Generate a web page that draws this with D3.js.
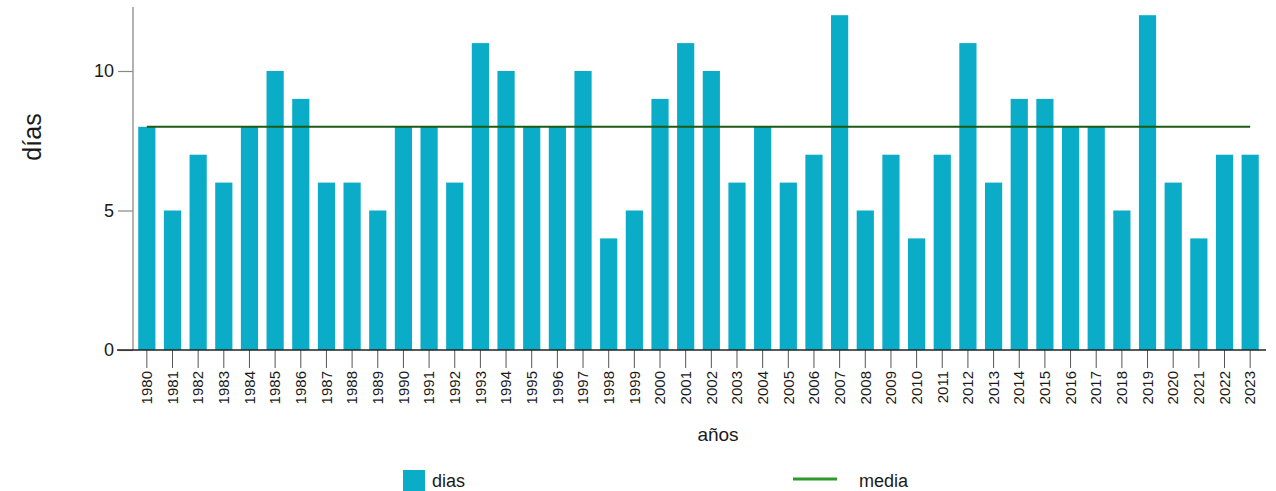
<!DOCTYPE html>
<html>
<head>
<meta charset="utf-8">
<script src="https://cdn.jsdelivr.net/npm/d3@7"></script>
<style>
  body { margin: 0; background: #fff; }
  svg { display: block; font-family: "Liberation Sans Narrow", "Liberation Sans", Arial, sans-serif; }
</style>
</head>
<body>
<svg id="chart" width="1276" height="491"></svg>
<script>
const years = ["1980","1981","1982","1983","1984","1985","1986","1987","1988","1989",
  "1990","1991","1992","1993","1994","1995","1996","1997","1998","1999",
  "2000","2001","2002","2003","2004","2005","2006","2007","2008","2009",
  "2010","2011","2012","2013","2014","2015","2016","2017","2018","2019",
  "2020","2021","2022","2023"];
const dias = [8,5,7,6,8,10,9,6,6,5,
  8,8,6,11,10,8,8,10,4,5,
  9,11,10,6,8,6,7,12,5,7,
  4,7,11,6,9,9,8,8,5,12,
  6,4,7,7];
const media = [8,8,8,8,8,8,8,8,8,8,
  8,8,8,8,8,8,8,8,8,8,
  8,8,8,8,8,8,8,8,8,8,
  8,8,8,8,8,8,8,8,8,8,
  8,8,8,8];
const yTicks = [0, 5, 10];

const svg = d3.select("#chart");
const barColor = "#0aacc8";
const sansFont = "'Liberation Sans', Arial, sans-serif";

const x = d3.scaleBand().domain(years).range([134, 1263]).paddingInner(0.33).paddingOuter(0.165);
const y = d3.scaleLinear().domain([0, 10]).range([350, 71]);

// y axis
const yAxis = svg.append("g").attr("transform", "translate(133,0)")
  .call(d3.axisLeft(y).tickValues(yTicks).tickSize(15).tickPadding(4).tickFormat(d3.format("d")));
yAxis.select(".domain").remove();
yAxis.selectAll(".tick line").attr("stroke", "#888").attr("stroke-width", 1.2);
yAxis.selectAll(".tick text").attr("font-size", 18).attr("fill", "#1a1a1a")
  .style("font-family", sansFont);
svg.append("line").attr("x1", 133).attr("x2", 133).attr("y1", 7).attr("y2", 350)
  .attr("stroke", "#999").attr("stroke-width", 1.5);

// bars
svg.append("g").selectAll("rect").data(years).join("rect")
  .attr("x", d => x(d))
  .attr("width", x.bandwidth())
  .attr("y", (d, i) => y(dias[i]))
  .attr("height", (d, i) => y(0) - y(dias[i]))
  .attr("fill", barColor);

// x axis
const xAxis = svg.append("g").attr("transform", "translate(0,350)")
  .call(d3.axisBottom(x).tickSize(18).tickPadding(3));
xAxis.select(".domain").remove();
xAxis.selectAll(".tick line").attr("stroke", "#555").attr("stroke-width", 1);
xAxis.selectAll(".tick text")
  .attr("transform", "rotate(-90)")
  .attr("text-anchor", "end")
  .attr("x", -21)
  .attr("y", 0)
  .attr("dy", "0.35em")
  .attr("font-size", 15)
  .attr("fill", "#1a1a1a");
svg.append("line").attr("x1", 117).attr("x2", 1266).attr("y1", 350).attr("y2", 350)
  .attr("stroke", "#222").attr("stroke-width", 1.5);

// mean line
const line = d3.line().x((d, i) => x(years[i]) + x.bandwidth() / 2).y(d => y(d));
svg.append("path").datum(media).attr("d", line)
  .attr("fill", "none").attr("stroke", "#1d5a14").attr("stroke-width", 2);

// axis titles
svg.append("text").attr("x", 718).attr("y", 441).attr("text-anchor", "middle")
  .attr("font-size", 19).attr("fill", "#1a1a1a")
  .style("font-family", sansFont).text("años");
svg.append("text").attr("transform", "translate(41,137) rotate(-90)").attr("text-anchor", "middle")
  .attr("font-size", 25).attr("fill", "#1a1a1a")
  .style("font-family", sansFont).text("días");

// legend
svg.append("rect").attr("x", 403).attr("y", 470).attr("width", 22).attr("height", 22).attr("fill", barColor);
svg.append("text").attr("x", 432).attr("y", 487).attr("font-size", 18).attr("fill", "#1a1a1a")
  .style("font-family", sansFont).text("dias");
svg.append("line").attr("x1", 793).attr("x2", 837).attr("y1", 479).attr("y2", 479)
  .attr("stroke", "#2f9a2a").attr("stroke-width", 3);
svg.append("text").attr("x", 859).attr("y", 487).attr("font-size", 18).attr("fill", "#1a1a1a")
  .style("font-family", sansFont).text("media");
</script>
</body>
</html>
